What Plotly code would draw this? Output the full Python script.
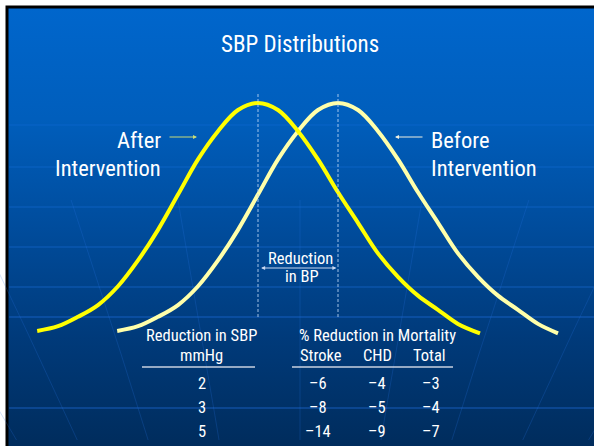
import plotly.graph_objects as go

# ---------------- data ----------------
sbp_after = [102.4, 105, 107.5, 110, 112.5, 115, 117.5, 120, 122.5, 125, 127.5, 130,
             132.5, 135, 137.5, 140, 142.5, 145, 147.5, 150, 152.5, 155, 157.75]
sbp_before = [112.4, 115, 117.5, 120, 122.5, 125, 127.5, 130, 132.5, 135, 137.5, 140,
              142.5, 145, 147.5, 150, 152.5, 155, 157.5, 160, 162.5, 165, 167.5]
density_after = [0.03, 0.05, 0.09, 0.14, 0.22, 0.33, 0.46, 0.61, 0.76, 0.88, 0.97, 1.00,
                 0.97, 0.88, 0.76, 0.62, 0.49, 0.36, 0.26, 0.18, 0.12, 0.06, 0.02]
density_before = [0.03, 0.05, 0.09, 0.14, 0.22, 0.33, 0.46, 0.61, 0.76, 0.88, 0.97, 1.00,
                  0.97, 0.88, 0.76, 0.62, 0.49, 0.36, 0.26, 0.18, 0.12, 0.06, 0.02]

table_sbp = ["2", "3", "5"]
table_stroke = [-6, -8, -14]
table_chd = [-4, -5, -9]
table_total = [-3, -4, -7]

# ---------------- geometry helpers ----------------
W, H = 594, 446
X_RANGE = [97.75, 172.0]
Y_RANGE = [-0.4596, 1.438]


def to_x(px):
    return X_RANGE[0] + px / W * (X_RANGE[1] - X_RANGE[0])


def to_y(py):
    return Y_RANGE[1] - py / H * (Y_RANGE[1] - Y_RANGE[0])


def pxp(px):
    return px / W


def pyp(py):
    return 1 - py / H


FONT = "Liberation Sans Narrow, Arial Narrow, Roboto Condensed, DejaVu Sans Condensed, Liberation Sans, Arial, sans-serif"

fig = go.Figure()

# background gradient (slide)
bx = [to_x(8.5), to_x(W + 2), to_x(W + 2), to_x(8.5), to_x(8.5)]
by = [to_y(8.5), to_y(8.5), to_y(H + 2), to_y(H + 2), to_y(8.5)]
fig.add_trace(go.Scatter(
    x=bx, y=by, mode="lines", fill="toself", line=dict(width=0),
    fillgradient=dict(type="vertical", colorscale=[
        [0.0, "rgb(0,44,92)"], [0.25, "rgb(0,58,122)"], [0.5, "rgb(0,76,156)"],
        [0.75, "rgb(0,94,188)"], [1.0, "rgb(0,102,204)"]]),
    hoverinfo="skip", showlegend=False))

# horizontal faint grid lines of the template
grid_rows = [(125, 0.22), (167, 0.28), (207, 0.32), (247, 0.38), (287, 0.42), (317, 0.5), (408, 0.55)]
for gy, op in grid_rows:
    fig.add_trace(go.Scatter(x=[to_x(9), to_x(W)], y=[to_y(gy), to_y(gy)], mode="lines",
                             line=dict(color=f"rgba(40,130,255,{op})", width=1),
                             hoverinfo="skip", showlegend=False))

# meridian-like faint curves
for xb in [20, 80, 150, 220, 300, 380, 450, 520, 585]:
    xs, ys = [], []
    for yy in range(200, 447, 8):
        t = (1000 - yy) / (1000 - 446)
        xs.append(to_x(300 + (xb - 300) * t ** 1.15))
        ys.append(to_y(yy))
    fig.add_trace(go.Scatter(x=xs, y=ys, mode="lines",
                             line=dict(color="rgba(40,120,230,0.22)", width=1),
                             hoverinfo="skip", showlegend=False))

# curves
fig.add_trace(go.Scatter(x=sbp_before, y=density_before, mode="lines", line_shape="spline",
                         line=dict(color="#FFFFAA", width=4), hoverinfo="skip", showlegend=False))
fig.add_trace(go.Scatter(x=sbp_after, y=density_after, mode="lines", line_shape="spline",
                         line=dict(color="#FFFF00", width=4), hoverinfo="skip", showlegend=False))

peak_after = sbp_after[density_after.index(max(density_after))]
peak_before = sbp_before[density_before.index(max(density_before))]

shapes = [
    dict(type="rect", xref="paper", yref="paper", x0=pxp(5.5), x1=1.02, y0=-0.02, y1=pyp(5.5),
         fillcolor="black", line=dict(width=0), layer="below"),
]
for xv in [peak_after, peak_before]:
    shapes.append(dict(type="line", xref="x", yref="y", x0=xv, x1=xv, y0=to_y(317), y1=to_y(94),
                       line=dict(color="rgba(190,215,245,0.85)", width=1, dash="3px,2px")))
# table underlines
shapes.append(dict(type="line", xref="paper", yref="paper", x0=pxp(142), x1=pxp(255), y0=pyp(367), y1=pyp(367),
                   line=dict(color="rgb(200,210,225)", width=1.5)))
shapes.append(dict(type="line", xref="paper", yref="paper", x0=pxp(292), x1=pxp(453), y0=pyp(367), y1=pyp(367),
                   line=dict(color="rgb(200,210,225)", width=1.5)))

ann = []


def txt(text, x, y, size, xanchor="center", yanchor="middle", align="center"):
    ann.append(dict(text=text, x=pxp(x), y=pyp(y), xref="paper", yref="paper", showarrow=False,
                    xanchor=xanchor, yanchor=yanchor, align=align,
                    font=dict(family=FONT, size=size, color="white")))


txt("SBP Distributions", 300, 45, 23)
txt("After", 163, 140, 22.5, xanchor="right")
txt("Intervention", 163, 168, 22.5, xanchor="right")
txt("Before", 429, 140, 22.5, xanchor="left")
txt("Intervention", 429, 168, 22.5, xanchor="left")
txt("Reduction", 300, 258, 16.5)
txt("in BP", 302, 276, 16.5)

# arrows
ann.append(dict(x=pxp(197), y=pyp(137), xref="paper", yref="paper", ax=-29, ay=0, text="",
                showarrow=True, arrowhead=2, arrowsize=0.8, arrowwidth=1, arrowcolor="#C8DC78"))
ann.append(dict(x=pxp(395), y=pyp(137), xref="paper", yref="paper", ax=29, ay=0, text="",
                showarrow=True, arrowhead=2, arrowsize=0.8, arrowwidth=1, arrowcolor="#F0F0E0"))
ann.append(dict(x=peak_before - 0.2, y=to_y(268), xref="x", yref="y", ax=peak_after + 0.2, ay=to_y(268),
                axref="x", ayref="y", text="", showarrow=True, arrowside="end+start", arrowhead=2,
                arrowsize=0.8, arrowwidth=1, arrowcolor="rgb(200,215,240)"))

# table
TS = 16.5
txt("Reduction in SBP", 201, 335, TS)
txt("mmHg", 201, 355, TS)
txt("% Reduction in Mortality", 377, 335, TS)
txt("Stroke", 321, 355, TS)
txt("CHD", 377, 355, TS)
txt("Total", 429, 355, TS)
row_y = [383, 407, 431]
for i in range(3):
    txt(table_sbp[i], 202, row_y[i], TS)
    txt(f"–{abs(table_stroke[i])}", 318, row_y[i], TS)
    txt(f"–{abs(table_chd[i])}", 377, row_y[i], TS)
    txt(f"–{abs(table_total[i])}", 431, row_y[i], TS)

fig.update_layout(
    width=W, height=H, margin=dict(l=0, r=0, t=0, b=0),
    paper_bgcolor="white", plot_bgcolor="white",
    xaxis=dict(range=X_RANGE, visible=False, fixedrange=True),
    yaxis=dict(range=Y_RANGE, visible=False, fixedrange=True),
    shapes=shapes, annotations=ann, showlegend=False,
)
fig.write_html("out.html", config={"displayModeBar": False},
               post_script="document.body.style.margin='0px';document.body.style.overflow='hidden';")
